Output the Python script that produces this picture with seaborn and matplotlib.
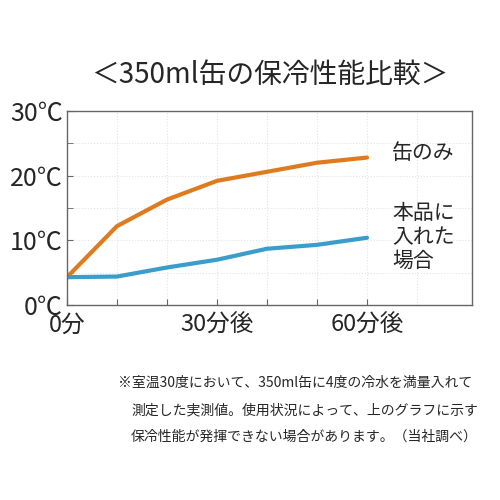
import matplotlib
matplotlib.use("Agg")
import matplotlib.pyplot as plt
import seaborn as sns
import pandas as pd

minutes = [0, 10, 20, 30, 40, 50, 60]
can_only = [4.3, 12.2, 16.3, 19.2, 20.6, 22.0, 22.8]
with_product = [4.3, 4.4, 5.8, 7.0, 8.7, 9.3, 10.4]
x_ticks = [0, 30, 60]
x_labels = ["0分", "30分後", "60分後"]
y_ticks = [0, 10, 20, 30]
y_labels = ["0℃", "10℃", "20℃", "30℃"]

sns.set_style("white")
plt.rcParams['font.family'] = ['Noto Sans CJK JP', 'DejaVu Sans']

df = pd.DataFrame({"min": minutes * 2, "temp": can_only + with_product,
                   "series": ["can"] * 7 + ["prod"] * 7})

fig = plt.figure(figsize=(5, 5), dpi=100)
ax = fig.add_axes([0.134, 0.39, 0.81, 0.388])
sns.lineplot(data=df, x="min", y="temp", hue="series",
             palette={"can": "#e07a1f", "prod": "#3a9dcc"}, linewidth=3,
             legend=False, ax=ax)
ax.set_xlim(0, 81)
ax.set_ylim(0, 30)
for v in range(10, 80, 10):
    ax.axvline(v, color="#e4e4e4", lw=0.8, ls=":", zorder=0)
for v in range(5, 30, 5):
    ax.axhline(v, color="#e4e4e4", lw=0.8, ls=":", zorder=0)
ax.set_xticks(range(0, 70, 10))
ax.set_xticklabels([x_labels[x_ticks.index(t)] if t in x_ticks else "" for t in range(0, 70, 10)], fontsize=17)
ax.set_yticks(y_ticks)
ax.set_yticklabels(y_labels, fontsize=18)
ax.set_yticks(range(5, 30, 10), minor=True)
ax.tick_params(axis="both", which="both", direction="in", length=4, color="#666666", pad=3, bottom=True, left=True)
ax.tick_params(axis="x", pad=6)
ax.set_xlabel("")
ax.set_ylabel("")
for s in ax.spines.values():
    s.set_color("#666666")
    s.set_linewidth(1)
ax.text(65, 23.5, "缶のみ", fontsize=15, va="center", ha="left")
ax.text(65, 10.5, "本品に\n入れた\n場合", fontsize=15, va="center", ha="left", linespacing=1.1)

fig.text(0.54, 0.85, "＜350ml缶の保冷性能比較＞", fontsize=20, ha="center", va="center")
fig.text(0.236, 0.234, "※室温30度において、350ml缶に4度の冷水を満量入れて", fontsize=10, ha="left", va="center")
fig.text(0.262, 0.18, "測定した実測値。使用状況によって、上のグラフに示す", fontsize=10, ha="left", va="center")
fig.text(0.262, 0.126, "保冷性能が発揮できない場合があります。（当社調べ）", fontsize=10, ha="left", va="center")
fig.savefig("out.png", dpi=100)
